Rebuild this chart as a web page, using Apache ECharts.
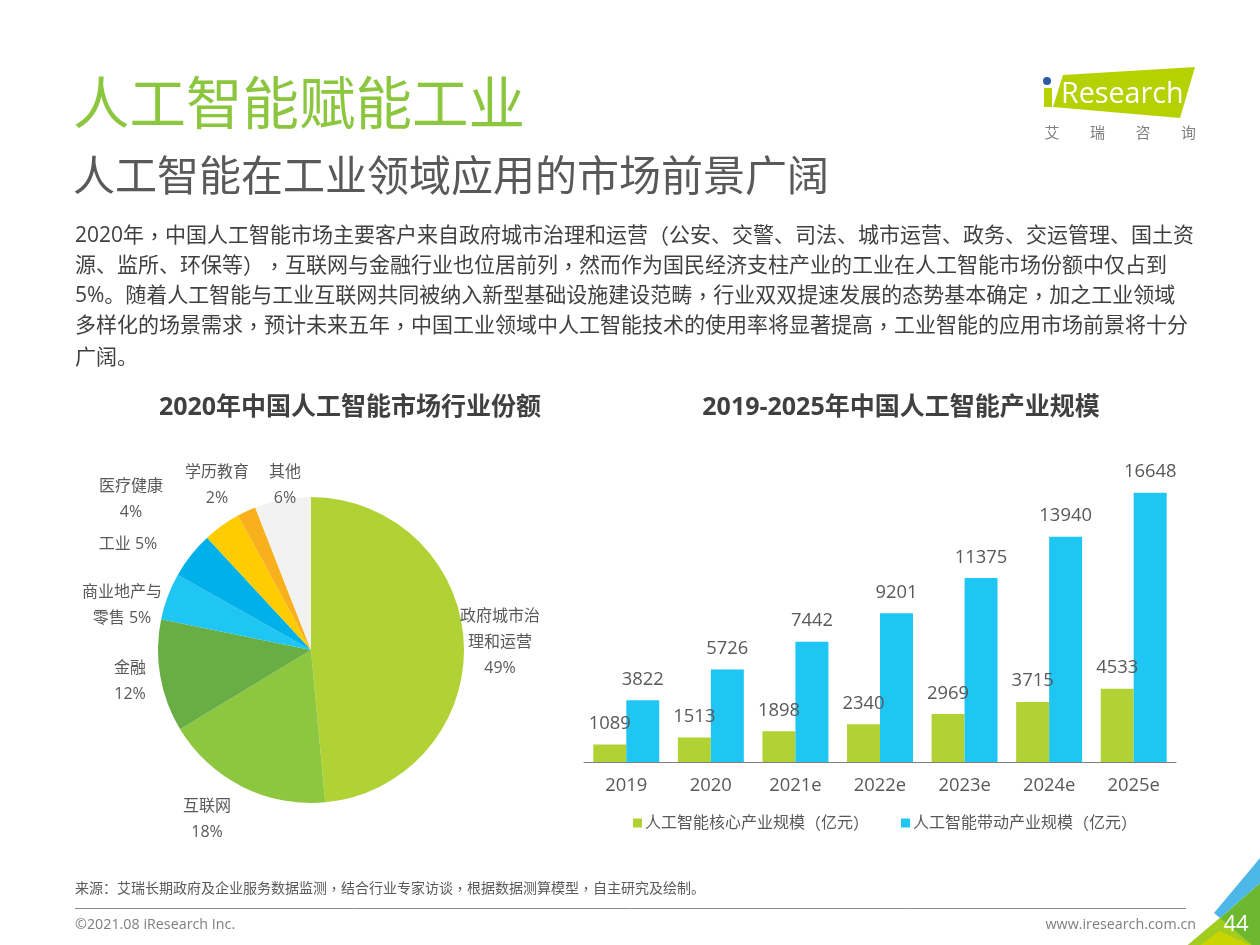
<!DOCTYPE html>
<html>
<head>
<meta charset="utf-8">
<style>html,body{margin:0;padding:0;background:#fff}#main{width:1260px;height:945px}</style>
<script src="https://cdn.jsdelivr.net/npm/echarts@6/dist/echarts.min.js"></script>
</head>
<body>
<div id="main"></div>
<script>
var pieNames = ['政府城市治\n理和运营', '互联网', '金融', '商业地产与\n零售', '工业', '医疗健康', '学历教育', '其他']
var pieValues = [49, 18, 12, 5, 5, 4, 2, 6]
var years = ['2019', '2020', '2021e', '2022e', '2023e', '2024e', '2025e']
var coreValues = [1089, 1513, 1898, 2340, 2969, 3715, 4533]
var drivenValues = [3822, 5726, 7442, 9201, 11375, 13940, 16648]
var paragraph = [
  '2020年，中国人工智能市场主要客户来自政府城市治理和运营（公安、交警、司法、城市运营、政务、交运管理、国土资',
  '源、监所、环保等），互联网与金融行业也位居前列，然而作为国民经济支柱产业的工业在人工智能市场份额中仅占到',
  '5%。随着人工智能与工业互联网共同被纳入新型基础设施建设范畴，行业双双提速发展的态势基本确定，加之工业领域',
  '多样化的场景需求，预计未来五年，中国工业领域中人工智能技术的使用率将显著提高，工业智能的应用市场前景将十分',
  '广阔。'
]

var FONT = '"Open Sans","Noto Sans CJK SC",sans-serif'
var FONT_TC = '"Noto Sans CJK TC",sans-serif'
var pieColors = ['#B0D235', '#8DC63F', '#68AE45', '#1FC6F3', '#00B0E8', '#FFCC00', '#F8B01C', '#F2F2F2']
// label centres for the pie, the original placed them by hand
var pieLabelPos = [[500, 642], [207, 819], [130, 681], [122, 605], [128, 544], [131, 499], [217, 485], [285, 485]]

function txt(x, y, text, size, color, extra) {
  var style = { x: x, y: y, text: text, fontSize: size, fill: color, fontFamily: FONT, textVerticalAlign: 'middle' }
  for (var k in extra) style[k] = extra[k]
  return { type: 'text', style: style }
}

// the source has centred commas and brackets, the TC cut of Noto draws them that way
function punctText(x, y, text, size, color) {
  return txt(x, y, text.replace(/[，（）]/g, '{p|$&}'), size, color, {
    rich: { p: { fontFamily: FONT_TC, fontSize: size, fill: color } }
  })
}

function poly(points, color) {
  return { type: 'polygon', shape: { points: points }, style: { fill: color } }
}

var graphics = [
  txt(73, 108, '人工智能赋能工业', 56.5, '#8CC63F'),
  txt(73, 179, '人工智能在工业领域应用的市场前景广阔', 42, '#595959'),
  txt(350, 408, '2020年中国人工智能市场行业份额', 25, '#404040', { fontWeight: 'bold', textAlign: 'center' }),
  txt(901, 408, '2019-2025年中国人工智能产业规模', 25, '#404040', { fontWeight: 'bold', textAlign: 'center' }),
  punctText(75, 889, '来源：艾瑞长期政府及企业服务数据监测，结合行业专家访谈，根据数据测算模型，自主研究及绘制。', 14, '#595959'),
  { type: 'line', shape: { x1: 75, y1: 908.5, x2: 1186, y2: 908.5 }, style: { stroke: '#8C8C8C', lineWidth: 1 } },
  txt(75, 924.5, '©2021.08 iResearch Inc.', 14.3, '#7F7F7F'),
  txt(1196, 924.5, 'www.iresearch.com.cn', 14.3, '#7F7F7F', { textAlign: 'right' }),
  // logo
  poly([[1063, 75], [1195, 67], [1180, 118], [1053, 107]], '#B5D100'),
  poly([[1044, 88], [1052, 88], [1052, 107], [1044, 107]], '#B5D100'),
  { type: 'circle', shape: { cx: 1047, cy: 81, r: 4 }, style: { fill: '#2D5CA6' } },
  txt(1061, 95, 'Research', 28.7, '#fff'),
  // corner
  poly([[1188, 945], [1220, 918], [1260, 883], [1260, 945]], '#6DB82E'),
  poly([[1188, 945], [1220, 918], [1252, 945]], '#A3CD1E'),
  poly([[1200, 945], [1220, 931], [1250, 945]], '#C9D400'),
  poly([[1260, 858], [1214, 913], [1220, 918], [1260, 883]], '#4DB8E8'),
  txt(1236, 925, '44', 22, '#fff', { textAlign: 'center' })
]
paragraph.forEach(function (line, i) {
  graphics.push(punctText(75, [236, 266, 296, 326, 358][i], line, 21, '#404040'))
})
var logoChars = ['艾', '瑞', '咨', '询']
logoChars.forEach(function (c, i) {
  graphics.push(txt(1052 + i * 45.5, 134, c, 15, '#808080', { textAlign: 'center' }))
})

var myChart = echarts.init(document.getElementById('main'))
myChart.setOption({
  animation: false,
  backgroundColor: '#fff',
  textStyle: { fontFamily: FONT },
  graphic: graphics,
  grid: { left: 584, right: 84, bottom: 183, top: 471 },
  xAxis: {
    type: 'category',
    data: years,
    axisTick: { show: false },
    axisLine: { lineStyle: { color: '#7F7F7F', width: 1 } },
    axisLabel: { color: '#595959', fontSize: 18.4, margin: 15 }
  },
  yAxis: { type: 'value', min: 0, max: 18000, show: false },
  legend: {
    left: 628,
    top: 810,
    icon: 'rect',
    itemWidth: 9,
    itemHeight: 9,
    itemGap: 32,
    formatter: function (name) {
      return name.replace(/[（）]/g, '{p|$&}')
    },
    textStyle: {
      color: '#595959',
      fontSize: 16,
      padding: [0, 0, 0, -2],
      rich: { p: { fontFamily: FONT_TC, fontSize: 16, color: '#595959' } }
    },
    data: ['人工智能核心产业规模（亿元）', '人工智能带动产业规模（亿元）']
  },
  series: [
    {
      type: 'pie',
      center: [311, 650],
      radius: 153,
      startAngle: 90,
      clockwise: true,
      data: pieNames.map(function (n, i) {
        return { name: n, value: pieValues[i], itemStyle: { color: pieColors[i] } }
      }),
      labelLine: { show: false },
      label: {
        color: '#595959',
        fontSize: 16,
        lineHeight: 26,
        align: 'center',
        formatter: function (p) {
          // these two sit on one line with the name in the original
          if (p.name === '工业' || p.name.indexOf('零售') > -1) return p.name + ' ' + p.value + '%'
          return p.name + '\n' + p.value + '%'
        }
      },
      labelLayout: function (p) {
        var pos = pieLabelPos[p.dataIndex]
        return { x: pos[0], y: pos[1], align: 'center', verticalAlign: 'middle' }
      }
    },
    {
      name: '人工智能核心产业规模（亿元）',
      type: 'bar',
      data: coreValues,
      barGap: 0,
      barCategoryGap: '22%',
      itemStyle: { color: '#B0D235' },
      label: { show: true, position: 'top', distance: 11.5, color: '#595959', fontSize: 18.4 }
    },
    {
      name: '人工智能带动产业规模（亿元）',
      type: 'bar',
      data: drivenValues,
      itemStyle: { color: '#1FC6F3' },
      label: { show: true, position: 'top', distance: 11.5, color: '#595959', fontSize: 18.4 }
    }
  ]
})
</script>
</body>
</html>
